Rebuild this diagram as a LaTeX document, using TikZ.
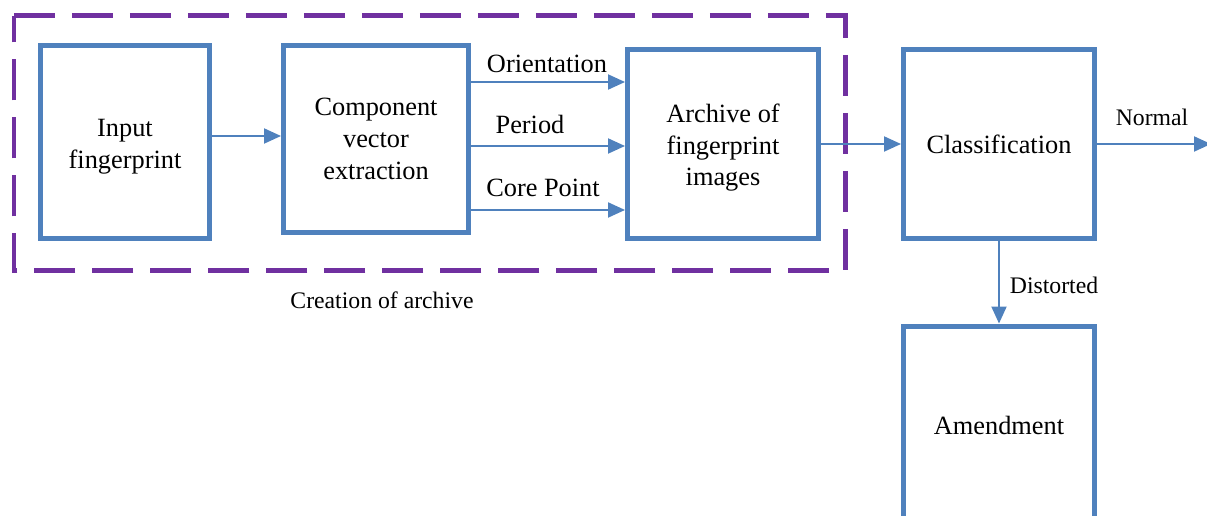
\documentclass[tikz,border=0pt]{standalone}
\usepackage{fontspec}
\setmainfont{Liberation Serif}
\usetikzlibrary{arrows.meta,calc}
\definecolor{boxblue}{HTML}{4F81BD}
\definecolor{archpurple}{HTML}{7030A0}

\begin{document}
\begin{tikzpicture}[x=0.02cm, y=-0.02cm,
    block/.style={draw=boxblue, line width=0.1cm, inner sep=0pt, align=center,
      font=\fontsize{15}{18}\selectfont},
    flow/.style={draw=boxblue, line width=0.04cm, -{Triangle[length=0.34cm,width=0.3cm]}},
    tag/.style={font=\fontsize{15}{18}\selectfont, inner sep=0pt},
    smalltag/.style={font=\fontsize{13.5}{16}\selectfont, inner sep=0pt}]
    \useasboundingbox (0,0) rectangle (1207,516);
    \clip (0,0) rectangle (1207,516);
    % dashed frame round the archive part
    \draw[archpurple, line width=0.1cm, dash pattern=on 0.82cm off 0.34cm]
      (14,16) -- (845,16) -- (845,271) -- (14,271) -- cycle;
    \node[smalltag] (frame) at (382,300) {Creation of archive};
    % boxes
    \node[block, minimum width=3.4cm, minimum height=3.88cm] (input) at (125,142) {\rule{0pt}{15pt}Input\\fingerprint};
    \node[block, minimum width=3.7cm, minimum height=3.74cm] (comp) at (376,139) {Component\\vector\\extraction};
    \node[block, minimum width=3.82cm, minimum height=3.8cm] (arch) at (723,144) {\rule{0pt}{15pt}Archive of\\fingerprint\\images};
    \node[block, minimum width=3.82cm, minimum height=3.8cm] (class) at (999,144) {Classification};
    \node[block, minimum width=3.82cm, minimum height=3.96cm] (amend) at (999,425) {Amendment};
    % connectors
    \coordinate (in1) at ([yshift=0.12cm]input.east);
    \draw[flow] (in1) -- (in1 -| comp.west);
    \coordinate (ori) at ([yshift=1.14cm]comp.east);
    \coordinate (per) at ([yshift=-0.14cm]comp.east);
    \coordinate (core) at ([yshift=-1.42cm]comp.east);
    \draw[flow] (ori) -- (ori -| arch.west);
    \draw[flow] (per) -- (per -| arch.west);
    \draw[flow] (core) -- (core -| arch.west);
    \node[tag] (oritag) at (547,64) {Orientation};
    \node[tag] (pertag) at (530,124) {Period};
    \node[tag] (coretag) at (543,188) {Core Point};
    \draw[flow] (arch.east) -- (class.west);
    \coordinate (outend) at (1211,144);
    \draw[flow] (class.east) -- (outend);
    \node[smalltag] (normal) at (1152,117) {Normal};
    \draw[flow] (class.south) -- (amend.north);
    \node[smalltag] (dist) at (1054,285) {Distorted};
\end{tikzpicture}
\end{document}
